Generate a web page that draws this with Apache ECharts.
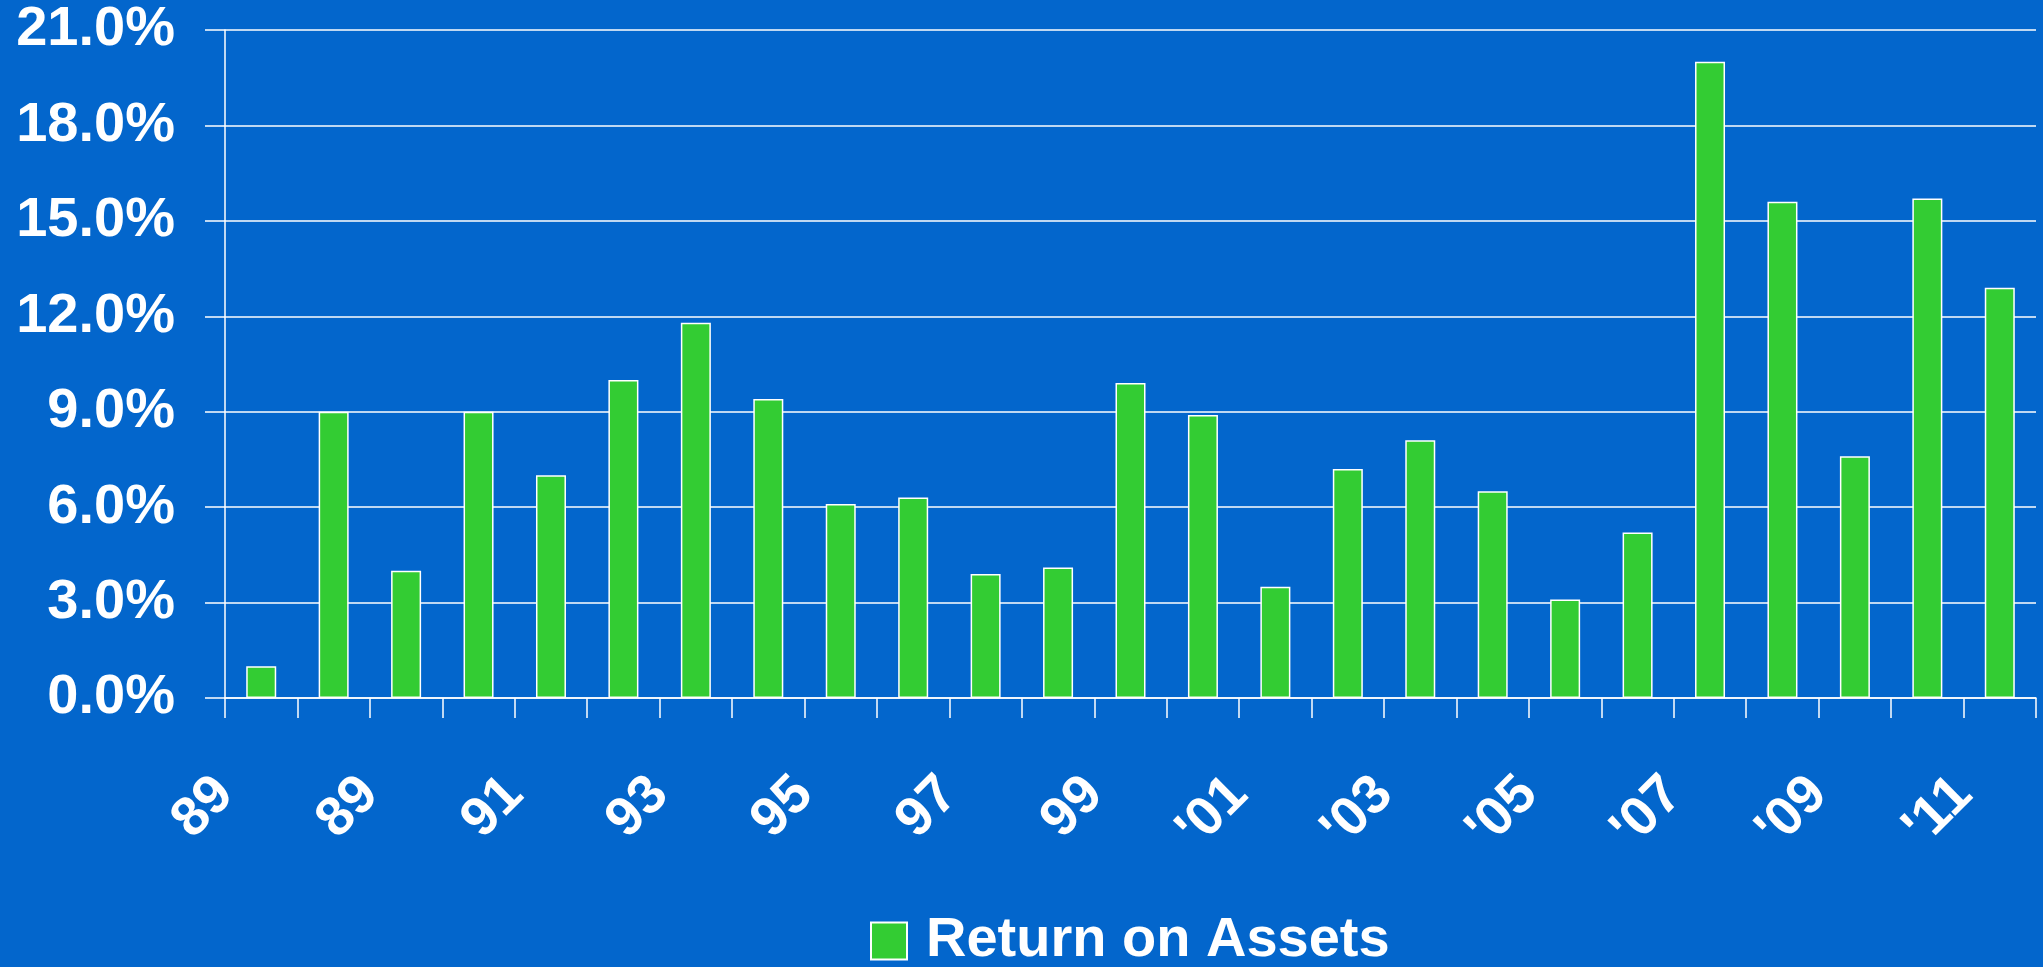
<!DOCTYPE html>
<html>
<head>
<meta charset="utf-8">
<title>Return on Assets</title>
<script src="https://cdn.jsdelivr.net/npm/echarts@6/dist/echarts.min.js"></script>
<style>
  html, body { margin: 0; padding: 0; background: #0366CC; }
  #chart { width: 2043px; height: 967px; }
</style>
</head>
<body>
<div id="chart"></div>
<script>
// Yearly return on assets, in percent
const years = ['1988', '1989', '1990', '1991', '1992', '1993', '1994', '1995', '1996', '1997',
               '1998', '1999', '2000', '2001', '2002', '2003', '2004', '2005', '2006', '2007',
               '2008', '2009', '2010', '2011', '2012'];
const returnOnAssets = [1.0, 9.0, 4.0, 9.0, 7.0, 10.0, 11.8, 9.4, 6.1, 6.3,
                        3.9, 4.1, 9.9, 8.9, 3.5, 7.2, 8.1, 6.5, 3.1, 5.2,
                        20.0, 15.6, 7.6, 15.7, 12.9];
// Year labels, placed on every second category boundary
const yearTicks = ['89', '89', '91', '93', '95', '97', '99', "'01", "'03", "'05", "'07", "'09", "'11"];
const seriesName = 'Return on Assets';

const FONT = 'Arial, "Liberation Sans", Helvetica, sans-serif';
const WHITE = '#FFFFFF';
const GREEN = '#33CC33';

// Boundary axis: one slot per category edge, label on every even edge
const boundaryLabels = [];
for (let i = 0; i <= years.length; i++) {
  boundaryLabels.push(i % 2 === 0 ? (yearTicks[i / 2] || '') : '');
}

const chart = echarts.init(document.getElementById('chart'), null, { renderer: 'canvas' });

chart.setOption({
  backgroundColor: '#0366CC',
  animation: false,
  grid: { left: 225, right: 7, top: 30, bottom: 269, containLabel: false },
  legend: {
    data: [seriesName],
    left: 865,
    top: 908,
    icon: 'rect',
    itemWidth: 36,
    itemHeight: 37,
    textStyle: {
      color: WHITE, fontSize: 56, fontWeight: 'bold', fontFamily: FONT,
      padding: [0, 0, 0, 14]
    }
  },
  xAxis: [
    {
      type: 'category',
      data: years,
      boundaryGap: true,
      axisLine: { show: true, lineStyle: { color: WHITE, width: 1.5 } },
      axisTick: { show: true, interval: 0, length: 20, lineStyle: { color: WHITE, width: 1.5 } },
      axisLabel: { show: false },
      splitLine: { show: false }
    },
    {
      type: 'category',
      data: boundaryLabels,
      boundaryGap: false,
      position: 'bottom',
      axisLine: { show: false },
      axisTick: { show: false },
      splitLine: { show: false },
      axisLabel: {
        interval: 0,
        rotate: 45,
        margin: 88,
        color: WHITE,
        fontSize: 55,
        fontWeight: 'bold',
        fontFamily: FONT
      }
    }
  ],
  yAxis: {
    type: 'value',
    min: 0,
    max: 21,
    interval: 3,
    axisLine: { show: true, lineStyle: { color: WHITE, width: 1.5 } },
    axisTick: { show: true, length: 20, lineStyle: { color: WHITE, width: 1.5 } },
    splitLine: { show: true, lineStyle: { color: WHITE, width: 1.5 } },
    axisLabel: {
      margin: 50,
      color: WHITE,
      fontSize: 56,
      fontWeight: 'bold',
      fontFamily: FONT,
      formatter: v => v.toFixed(1) + '%'
    }
  },
  series: [
    {
      name: seriesName,
      type: 'bar',
      xAxisIndex: 0,
      data: returnOnAssets,
      barWidth: 30,
      itemStyle: { color: GREEN, borderColor: WHITE, borderWidth: 1.5 }
    }
  ]
});
</script>
</body>
</html>
